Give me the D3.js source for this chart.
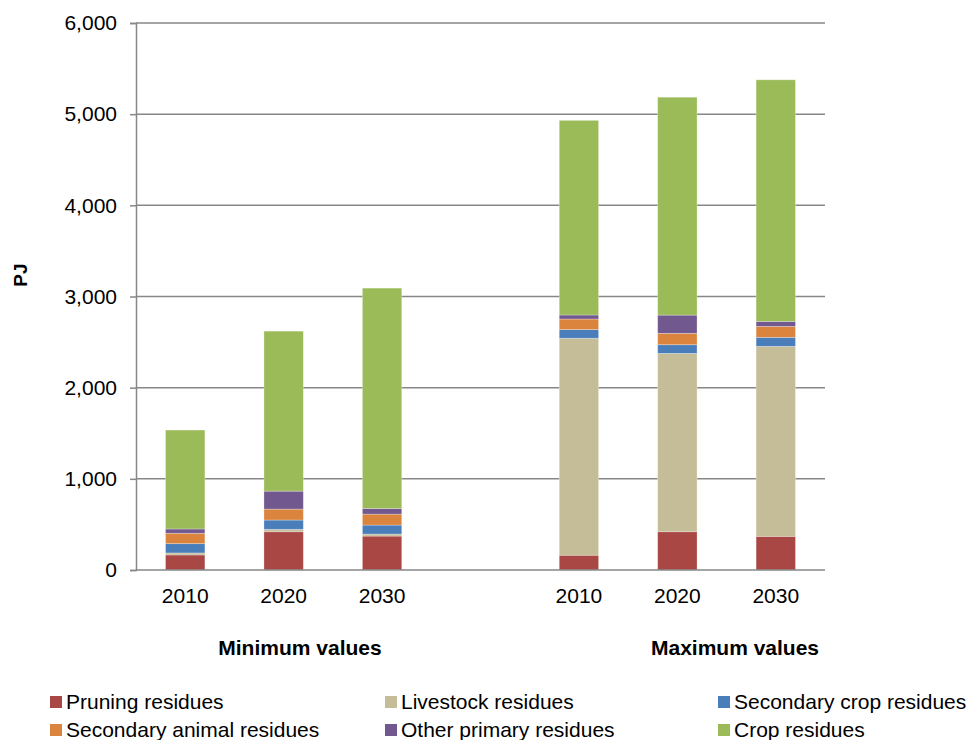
<!DOCTYPE html>
<html>
<head>
<meta charset="utf-8">
<script src="https://cdn.jsdelivr.net/npm/d3@7"></script>
<style>
  html, body { margin: 0; padding: 0; background: #fff; }
  svg { display: block; font-family: "Liberation Sans", Arial, sans-serif; }
</style>
</head>
<body>
<svg id="chart" width="970" height="740"></svg>
<script>
// ---- data ----
const groups = ["Minimum values", "Maximum values"];
const years = ["2010", "2020", "2030"];
const seriesNames = ["Pruning residues", "Livestock residues", "Secondary crop residues",
                     "Secondary animal residues", "Other primary residues", "Crop residues"];
const seriesColors = ["#A94744", "#C4BD97", "#4A7EBB", "#DB843D", "#71588F", "#9BBB59"];
// values per bar: Min 2010, Min 2020, Min 2030, Max 2010, Max 2020, Max 2030
const pruning         = [165, 420, 372, 162, 420, 369];
const livestock       = [22, 26, 22, 2380, 1956, 2084];
const secondaryCrop   = [102, 102, 99, 95, 95, 99];
const secondaryAnimal = [114, 120, 120, 116, 125, 120];
const otherPrimary    = [47, 197, 62, 44, 200, 55];
const cropResidues    = [1085, 1755, 2417, 2135, 2390, 2650];
const yTicks = [0, 1000, 2000, 3000, 4000, 5000, 6000];

const seriesValues = [pruning, livestock, secondaryCrop, secondaryAnimal, otherPrimary, cropResidues];

// ---- layout ----
const svg = d3.select("#chart");
const margin = { left: 136, right: 145, top: 23, bottom: 170 };
const W = 970, H = 740;
const plotL = margin.left, plotR = W - margin.right, plotT = margin.top, plotB = H - margin.bottom;
const fontSize = 21;

// slots: 3 min bars, a gap, 3 max bars
const barKeys = [];
groups.forEach((g, gi) => {
  years.forEach(y => barKeys.push({ key: g + "|" + y, group: g, year: y }));
  if (gi < groups.length - 1) barKeys.push({ key: "gap" + gi, gap: true });
});

const x = d3.scaleBand()
  .domain(barKeys.map(d => d.key))
  .range([plotL, plotR])
  .paddingInner(0.6)
  .paddingOuter(0.3);

const y = d3.scaleLinear().domain([0, 6000]).range([plotB, plotT]);

const rows = barKeys.filter(d => !d.gap).map((d, i) => {
  const r = { key: d.key, group: d.group, year: d.year };
  seriesNames.forEach((s, si) => r[s] = seriesValues[si][i]);
  return r;
});

const stack = d3.stack().keys(seriesNames)(rows);

const gridColor = "#878787";

// gridlines
svg.append("g")
  .selectAll("line")
  .data(yTicks.filter(t => t > 0))
  .join("line")
  .attr("x1", plotL).attr("x2", plotR)
  .attr("y1", d => y(d)).attr("y2", d => y(d))
  .attr("stroke", gridColor).attr("stroke-width", 1.5);

// bars
svg.append("g")
  .selectAll("g")
  .data(stack)
  .join("g")
  .attr("fill", (d, i) => seriesColors[i])
  .selectAll("rect")
  .data(d => d)
  .join("rect")
  .attr("x", d => x(d.data.key))
  .attr("width", x.bandwidth())
  .attr("y", d => y(d[1]))
  .attr("height", d => y(d[0]) - y(d[1]))
  .attr("stroke", "#ffffff")
  .attr("stroke-opacity", 0.35)
  .attr("stroke-width", 0.8);

// y axis
const yAxis = d3.axisLeft(y)
  .tickValues(yTicks)
  .tickFormat(d3.format(","))
  .tickSizeOuter(0)
  .tickSize(6)
  .tickPadding(13);
const yg = svg.append("g").attr("transform", `translate(${plotL},0)`).call(yAxis);
yg.select(".domain").attr("stroke", gridColor).attr("stroke-width", 1.5);
yg.selectAll(".tick line").attr("stroke", gridColor).attr("stroke-width", 1.5);
yg.selectAll(".tick text").attr("font-size", fontSize).attr("fill", "#000")
  .attr("font-family", "Liberation Sans, Arial, sans-serif");

// x axis baseline
svg.append("line")
  .attr("x1", plotL).attr("x2", plotR)
  .attr("y1", y(0)).attr("y2", y(0))
  .attr("stroke", gridColor).attr("stroke-width", 1.5);

// x tick labels (years)
svg.append("g")
  .selectAll("text")
  .data(barKeys.filter(d => !d.gap))
  .join("text")
  .attr("x", d => x(d.key) + x.bandwidth() / 2)
  .attr("y", y(0) + 26)
  .attr("dy", "0.35em")
  .attr("text-anchor", "middle")
  .attr("font-size", fontSize)
  .attr("fill", "#000")
  .text(d => d.year);

// group labels
const groupLabelX = [300, 735];
svg.append("g")
  .selectAll("text")
  .data(groups)
  .join("text")
  .attr("x", (d, i) => groupLabelX[i])
  .attr("y", 648)
  .attr("dy", "0.35em")
  .attr("text-anchor", "middle")
  .attr("font-size", fontSize)
  .attr("font-weight", "bold")
  .attr("fill", "#000")
  .text(d => d);

// y axis title
svg.append("text")
  .attr("transform", `translate(20,275) rotate(-90)`)
  .attr("dy", "0.35em")
  .attr("text-anchor", "middle")
  .attr("font-size", 19)
  .attr("font-weight", "bold")
  .attr("fill", "#000")
  .text("PJ");

// legend
const legendCols = [50, 385, 718];
const legendRows = [702, 730];
const lg = svg.append("g")
  .selectAll("g")
  .data(seriesNames)
  .join("g")
  .attr("transform", (d, i) => `translate(${legendCols[i % 3]},${legendRows[Math.floor(i / 3)]})`);
lg.append("rect")
  .attr("x", 0).attr("y", -6)
  .attr("width", 12).attr("height", 12)
  .attr("fill", (d, i) => seriesColors[i]);
lg.append("text")
  .attr("x", 16)
  .attr("y", 0)
  .attr("dy", "0.35em")
  .attr("font-size", fontSize)
  .attr("fill", "#000")
  .text(d => d);
</script>
</body>
</html>
